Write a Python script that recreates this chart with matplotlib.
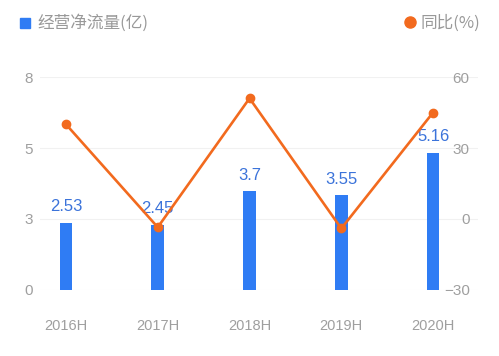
import matplotlib.pyplot as plt
import numpy as np

# data
years = ['2016H', '2017H', '2018H', '2019H', '2020H']
cash_flow = [2.53, 2.45, 3.7, 3.55, 5.16]          # 经营净流量(亿)
yoy = [40, -3.5, 51, -4, 45]                        # 同比(%)
left_ticks = [0, 8 / 3, 16 / 3, 8]
left_labels = ['0', '3', '5', '8']
right_ticks = [-30, 0, 30, 60]

blue = '#2f7cf4'
label_blue = '#3b73da'
orange = '#f26a1e'
gray = '#9f9f9f'
num_font = ['Liberation Sans', 'DejaVu Sans']
cjk_font = ['Noto Sans CJK SC', 'DejaVu Sans']

fig = plt.figure(figsize=(4.99, 3.56), dpi=100)
ax = fig.add_axes([0.0802, 0.1854, 0.8778, 0.5983])
x = np.arange(len(years))

ax.bar(x, cash_flow, width=0.14, color=blue, zorder=2)
for xi, v in zip(x, cash_flow):
    ax.annotate(f'{v:g}', (xi, v), xytext=(0, 6), textcoords='offset points',
                ha='center', va='bottom', color=label_blue, fontsize=12,
                family=num_font, zorder=5)

ax.set_xlim(-0.283, 4.49)
ax.set_ylim(0, 8)
ax.set_yticks(left_ticks)
ax.set_yticklabels(left_labels)
ax.set_xticks(x)
ax.set_xticklabels(years)
ax.grid(axis='y', color='#f1f1f1', linewidth=0.8, zorder=0)
ax.tick_params(axis='y', length=0, pad=5, labelsize=11, labelcolor=gray)
ax.tick_params(axis='x', length=0, pad=21, labelsize=10.5, labelcolor=gray)
for s in ax.spines.values():
    s.set_visible(False)

ax2 = ax.twinx()
ax2.plot(x, yoy, color=orange, linewidth=1.9, marker='o', markersize=6, zorder=4)
ax2.set_ylim(-30, 60)
ax2.set_yticks(right_ticks)
ax2.tick_params(axis='y', length=0, pad=-6, labelsize=11, labelcolor=gray)
for lbl in ax2.get_yticklabels():
    lbl.set_horizontalalignment('right')
for s in ax2.spines.values():
    s.set_visible(False)

for lbl in ax.get_xticklabels() + ax.get_yticklabels() + ax2.get_yticklabels():
    lbl.set_family(num_font)

# legend
fig.patches.append(plt.Rectangle((20 / 499, 1 - 28 / 356), 10 / 499, 10 / 356,
                                 transform=fig.transFigure, color=blue))
fig.text(37 / 499, 1 - 23 / 356, '经营净流量(亿)', family=cjk_font, fontsize=12,
         color='#999999', va='center')
fig.add_artist(plt.Line2D([409.5 / 499], [1 - 22 / 356], marker='o', markersize=8,
                          color=orange, transform=fig.transFigure, linestyle=''))
fig.text(421 / 499, 1 - 23 / 356, '同比(%)', family=cjk_font, fontsize=12,
         color='#999999', va='center')

fig.savefig('out.png', dpi=100)
